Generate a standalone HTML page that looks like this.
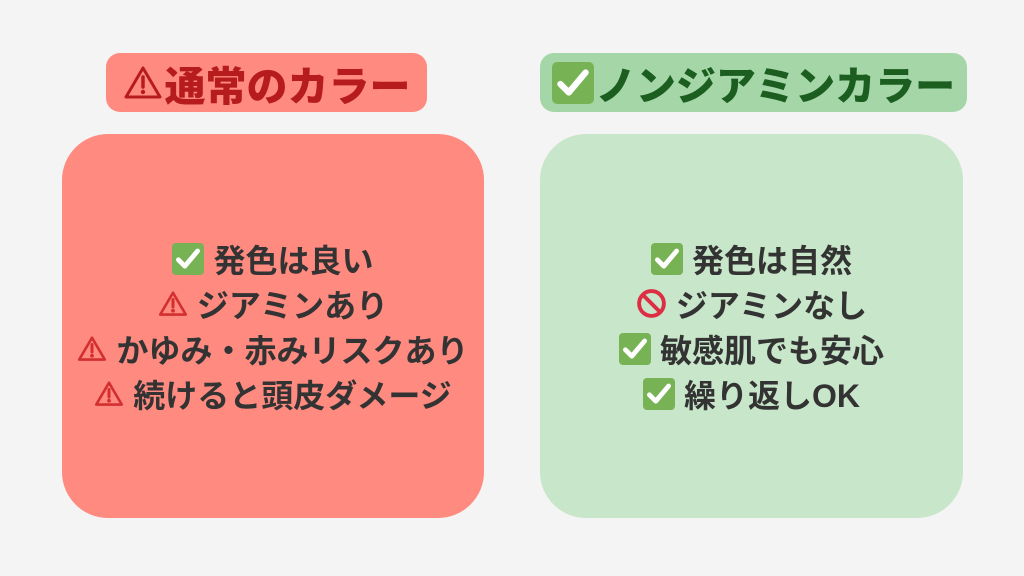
<!DOCTYPE html>
<html><head><meta charset="utf-8"><style>
body{margin:0;width:1024px;height:576px;background:#f4f4f4;position:relative;overflow:hidden;font-family:"Liberation Sans","Noto Sans CJK JP",sans-serif;}
.pill{position:absolute;top:53px;height:59px;border-radius:14px;display:flex;align-items:center;justify-content:center;font-weight:900;font-size:42px;white-space:nowrap}
.pill svg{flex:none}
.box{position:absolute;top:134px;height:384px;border-radius:46px;display:flex;flex-direction:column;align-items:center;justify-content:center;font-weight:bold;font-size:32px;color:#333;}
.ln{display:flex;align-items:center;height:45px;white-space:nowrap}
.ln svg{margin-right:9px;flex:none}
</style></head><body>
<div class="pill" style="left:106px;width:321px;background:#ff8a80;color:#b71c1c;font-size:41px">
<svg width="40" height="40" viewBox="0 0 40 40" style="margin-right:2px"><path d="M20 5 L37 34 H3 Z" fill="none" stroke="#b71c1c" stroke-width="3" stroke-linejoin="round"/><line x1="20" y1="14" x2="20" y2="24" stroke="#b71c1c" stroke-width="3.5" stroke-linecap="round"/><circle cx="20" cy="29" r="2.2" fill="#b71c1c"/></svg><span>通常のカラー</span></div>
<div class="pill" style="left:540px;width:427px;background:#a5d6a7;color:#1b5e20;font-size:40px">
<svg width="42" height="42" viewBox="0 0 40 40" style="margin-right:2px"><rect x="0" y="0" width="40" height="40" rx="5" fill="#77b255"/><path d="M8 21 L16 29 L32 10" fill="none" stroke="#fff" stroke-width="6" stroke-linecap="round" stroke-linejoin="round"/></svg><span>ノンジアミンカラー</span></div>

<div class="box" style="left:62px;width:422px;background:#ff8a80">
<div class="ln"><svg width="32" height="32" viewBox="0 0 40 40"><rect width="40" height="40" rx="5" fill="#77b255"/><path d="M8 21 L16 29 L32 10" fill="none" stroke="#fff" stroke-width="6" stroke-linecap="round" stroke-linejoin="round"/></svg>発色は良い</div>
<div class="ln"><svg width="30" height="30" viewBox="0 0 40 40"><path d="M20 5 L37 34 H3 Z" fill="none" stroke="#d32f2f" stroke-width="3.5" stroke-linejoin="round"/><line x1="20" y1="14" x2="20" y2="24" stroke="#d32f2f" stroke-width="4" stroke-linecap="round"/><circle cx="20" cy="29" r="2.5" fill="#d32f2f"/></svg>ジアミンあり</div>
<div class="ln"><svg width="30" height="30" viewBox="0 0 40 40"><path d="M20 5 L37 34 H3 Z" fill="none" stroke="#d32f2f" stroke-width="3.5" stroke-linejoin="round"/><line x1="20" y1="14" x2="20" y2="24" stroke="#d32f2f" stroke-width="4" stroke-linecap="round"/><circle cx="20" cy="29" r="2.5" fill="#d32f2f"/></svg>かゆみ・赤みリスクあり</div>
<div class="ln"><svg width="30" height="30" viewBox="0 0 40 40"><path d="M20 5 L37 34 H3 Z" fill="none" stroke="#d32f2f" stroke-width="3.5" stroke-linejoin="round"/><line x1="20" y1="14" x2="20" y2="24" stroke="#d32f2f" stroke-width="4" stroke-linecap="round"/><circle cx="20" cy="29" r="2.5" fill="#d32f2f"/></svg>続けると頭皮ダメージ</div>
</div>

<div class="box" style="left:540px;width:423px;background:#c8e6c9">
<div class="ln"><svg width="32" height="32" viewBox="0 0 40 40"><rect width="40" height="40" rx="5" fill="#77b255"/><path d="M8 21 L16 29 L32 10" fill="none" stroke="#fff" stroke-width="6" stroke-linecap="round" stroke-linejoin="round"/></svg>発色は自然</div>
<div class="ln"><svg width="31" height="31" viewBox="0 0 40 40"><circle cx="20" cy="20" r="16" fill="none" stroke="#dd2e44" stroke-width="5"/><line x1="9" y1="9" x2="31" y2="31" stroke="#dd2e44" stroke-width="5"/></svg>ジアミンなし</div>
<div class="ln"><svg width="32" height="32" viewBox="0 0 40 40"><rect width="40" height="40" rx="5" fill="#77b255"/><path d="M8 21 L16 29 L32 10" fill="none" stroke="#fff" stroke-width="6" stroke-linecap="round" stroke-linejoin="round"/></svg>敏感肌でも安心</div>
<div class="ln"><svg width="32" height="32" viewBox="0 0 40 40"><rect width="40" height="40" rx="5" fill="#77b255"/><path d="M8 21 L16 29 L32 10" fill="none" stroke="#fff" stroke-width="6" stroke-linecap="round" stroke-linejoin="round"/></svg>繰り返しOK</div>
</div>
</body></html>
